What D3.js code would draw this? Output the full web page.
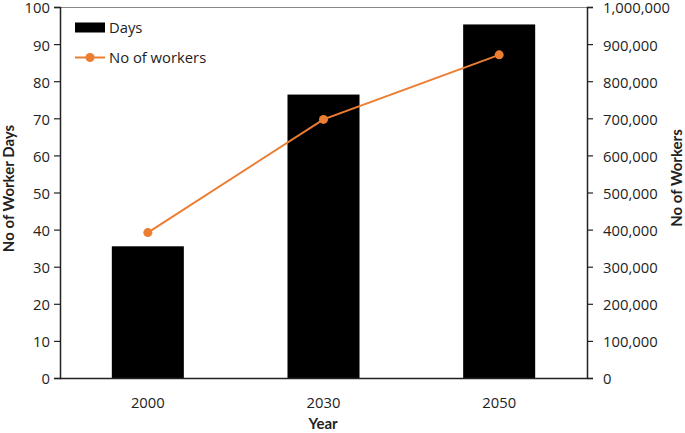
<!DOCTYPE html>
<html><head><meta charset="utf-8">
<script src="https://cdn.jsdelivr.net/npm/d3@7"></script>
<style>body{margin:0;background:#fff}text{font-family:"Open Sans",sans-serif;fill:#222}</style>
</head><body><svg id="c" width="685" height="433"></svg>
<script>
const years = ["2000","2030","2050"];
const days = [35.5, 76.4, 95.3];
const workers = [392000, 697000, 871000];
const leftTicks = [0,10,20,30,40,50,60,70,80,90,100];
const rightTicks = [0,100000,200000,300000,400000,500000,600000,700000,800000,900000,1000000];

const svg = d3.select("#c");
const L=60, R=587, T=7, B=378;
const x = d3.scaleBand().domain(years).range([L,R]).paddingInner(0.59).paddingOuter(0.295);
const yL = d3.scaleLinear().domain([0,100]).range([B,T]);
const yR = d3.scaleLinear().domain([0,1000000]).range([B,T]);

// top border
svg.append("line").attr("x1",L).attr("x2",R).attr("y1",T+0.5).attr("y2",T+0.5).attr("stroke","#888").attr("stroke-width",1);

svg.selectAll("rect.bar").data(days).join("rect").attr("class","bar")
  .attr("x",(d,i)=>x(years[i])).attr("width",x.bandwidth())
  .attr("y",d=>yL(d)).attr("height",d=>B-yL(d)).attr("fill","#000");

const fs = "14.8px";
const gl = svg.append("g").attr("transform",`translate(${L},0)`)
  .call(d3.axisLeft(yL).tickValues(leftTicks).tickSize(6).tickPadding(4));
const gr = svg.append("g").attr("transform",`translate(${R},0)`)
  .call(d3.axisRight(yR).tickValues(rightTicks).tickSize(6).tickPadding(10).tickFormat(d3.format(",")));
const gb = svg.append("g").attr("transform",`translate(0,${B})`)
  .call(d3.axisBottom(x).tickSize(0).tickPadding(19));
gb.select(".domain").attr("d",`M${L},0.5H${R}`);
[gl,gr,gb].forEach(g=>{
  g.selectAll("text").style("font-size",fs).style("font-family","'Open Sans',sans-serif").attr("fill","#222");
  g.selectAll("line").attr("stroke","#222").attr("stroke-width",1.2);
  g.select(".domain").attr("stroke","#222").attr("stroke-width",1.5);
});
[gl,gr].forEach(g=>g.selectAll(".tick text").attr("y",1.2));

const line = d3.line().x((d,i)=>x(years[i])+x.bandwidth()/2).y(d=>yR(d));
svg.append("path").datum(workers).attr("d",line).attr("fill","none").attr("stroke","#ED7D31").attr("stroke-width",2);
svg.selectAll("circle.pt").data(workers).join("circle").attr("class","pt")
  .attr("cx",(d,i)=>x(years[i])+x.bandwidth()/2).attr("cy",d=>yR(d)).attr("r",4.5).attr("fill","#ED7D31");

// legend
svg.append("rect").attr("x",75).attr("y",22.5).attr("width",30).attr("height",10).attr("fill","#000");
svg.append("text").attr("x",109).attr("y",33).style("font-size",fs).text("Days");
svg.append("line").attr("x1",75).attr("x2",105).attr("y1",57.5).attr("y2",57.5).attr("stroke","#ED7D31").attr("stroke-width",2);
svg.append("circle").attr("cx",90).attr("cy",57.5).attr("r",4.5).attr("fill","#ED7D31");
svg.append("text").attr("x",109).attr("y",62.5).style("font-size",fs).text("No of workers");

// titles
const tf = "Lato, sans-serif";
svg.append("text").attr("transform","translate(14,188.5) rotate(-90)").attr("text-anchor","middle")
  .style("font-family",tf).style("font-size","15px").style("font-weight","bold").text("No of Worker Days");
svg.append("text").attr("transform","translate(682,178) rotate(-90)").attr("text-anchor","middle")
  .style("font-family",tf).style("font-size","15px").style("font-weight","bold").text("No of Workers");
svg.append("text").attr("x",323).attr("y",429).attr("text-anchor","middle")
  .style("font-family",tf).style("font-size","15px").style("font-weight","bold").text("Year");
</script></body></html>
